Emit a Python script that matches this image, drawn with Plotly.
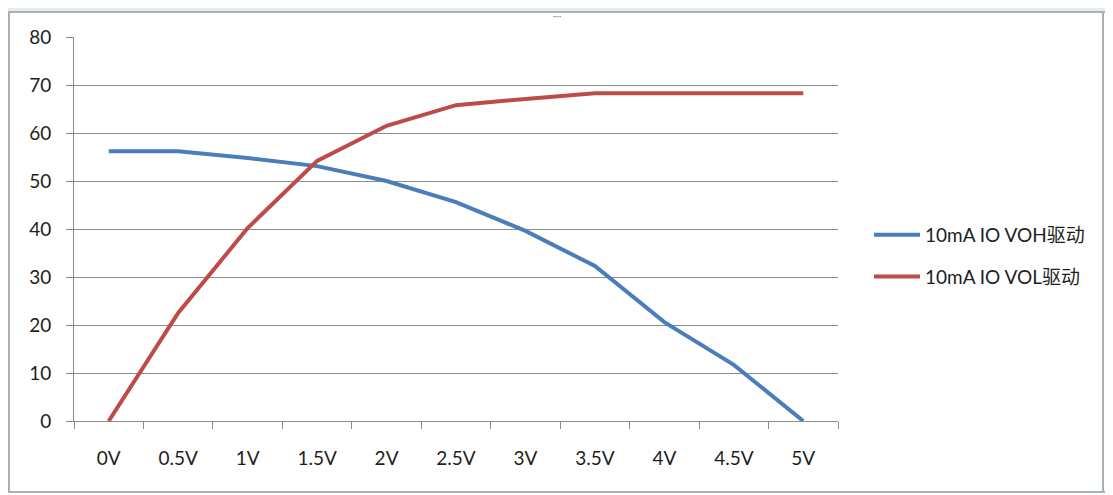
import plotly.graph_objects as go

categories = ["0V", "0.5V", "1V", "1.5V", "2V", "2.5V", "3V", "3.5V", "4V", "4.5V", "5V"]
voh = [56.2, 56.2, 54.8, 53.1, 50.0, 45.6, 39.6, 32.3, 20.6, 11.7, 0]
vol = [0, 22.5, 40.2, 54.2, 61.5, 65.8, 67.1, 68.3, 68.3, 68.3, 68.3]
names = ["10mA IO VOH驱动", "10mA IO VOL驱动"]
yticks = [0, 10, 20, 30, 40, 50, 60, 70, 80]

# page body has an 8px margin; figure is sized so the plot area lands where the reference has it
W, H = 1105, 487
L, R, T, B = 66, 275, 29, 74
pw, ph = W - L - R, H - T - B

def px(xw):  # window pixel -> paper x
    return (xw - 8 - L) / pw

def py(yw):  # window pixel -> paper y
    return (H - B - (yw - 8)) / ph

fig = go.Figure()
fig.add_trace(go.Scatter(x=categories, y=voh, mode="lines", name=names[0], legendgroup="a",
                         line=dict(color="#4a7ebb", width=4)))
fig.add_trace(go.Scatter(x=categories, y=vol, mode="lines", name=names[1], legendgroup="b",
                         line=dict(color="#be4b48", width=4)))

font = "Lato, 'Noto Sans CJK SC', sans-serif"
fig.update_layout(
    width=W, height=H,
    margin=dict(l=L, r=R, t=T, b=B),
    paper_bgcolor="white", plot_bgcolor="white",
    font=dict(family=font, size=19, color="#1e1e1e"),
    showlegend=True,
    legend=dict(x=px(869), y=py(256), xanchor="left", yanchor="middle",
                font=dict(size=19, color="#1e1e1e"), tracegroupgap=14, itemwidth=46,
                bgcolor="rgba(0,0,0,0)"),
    xaxis=dict(type="category", showgrid=False, showline=True, linecolor="#8c8c8c",
               linewidth=1, ticks="outside", tickson="boundaries", ticklen=7,
               tickcolor="#8c8c8c", ticklabelstandoff=20, range=[-0.5, 10.5]),
    yaxis=dict(range=[0, 80], tickvals=yticks, showgrid=True, gridcolor="#8c8c8c",
               gridwidth=1, showline=True, linecolor="#8c8c8c", linewidth=1,
               ticks="outside", ticklen=7, tickcolor="#8c8c8c", zeroline=False,
               ticklabelstandoff=11),
    shapes=[
        dict(type="rect", xref="paper", yref="paper", x0=px(0), x1=px(1113), y0=py(12), y1=py(0),
             fillcolor="#e9edf1", line=dict(width=0), layer="below"),
        dict(type="line", xref="paper", yref="paper", x0=px(3), x1=px(1109), y0=py(12), y1=py(12),
             line=dict(color="#a8b0b8", width=2), layer="below"),
        dict(type="line", xref="paper", yref="paper", x0=px(3), x1=px(1109), y0=py(492), y1=py(492),
             line=dict(color="#a8b0b8", width=2), layer="below"),
        dict(type="line", xref="paper", yref="paper", x0=px(1103), x1=px(1103), y0=py(492), y1=py(12),
             line=dict(color="#a8b0b8", width=2), layer="below"),
        dict(type="line", xref="paper", yref="paper", x0=px(9), x1=px(9), y0=py(492), y1=py(12),
             line=dict(color="#a8b0b8", width=2), layer="below"),
    ],
)
fig.add_annotation(xref="paper", yref="paper", x=px(557), y=py(9), text="····",
                   showarrow=False, font=dict(size=8, color="#666666"))

fig.write_html("out.html")
